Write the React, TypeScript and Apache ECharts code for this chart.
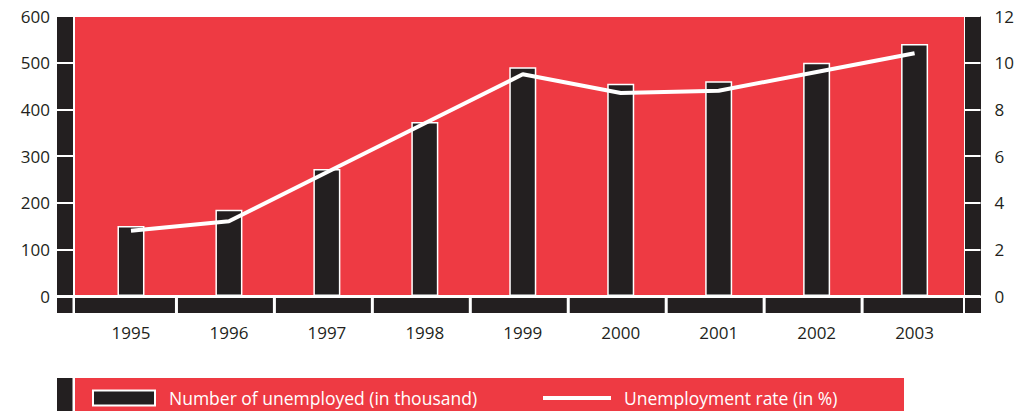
import React, { useEffect, useRef } from "react";
import * as echarts from "echarts";

const years = ["1995", "1996", "1997", "1998", "1999", "2000", "2001", "2002", "2003"];
const unemployed = [150, 185, 272, 373, 490, 455, 460, 500, 540];
const rate = [2.8, 3.2, 5.3, 7.4, 9.5, 8.7, 8.8, 9.6, 10.4];
const barName = "Number of unemployed (in thousand)";
const lineName = "Unemployment rate (in %)";

const RED = "#ee3a43";
const DARK = "#231f20";
const FONT = "Open Sans";

export default function App() {
  const ref = useRef<HTMLDivElement>(null);
  useEffect(() => {
    if (!ref.current) return;
    document.body.style.margin = "0";
    const chart = echarts.init(ref.current, undefined, { renderer: "svg" });
    const option: any = {
      animation: false,
      grid: { left: 82, right: 53, top: 16, bottom: 115, containLabel: false },
      xAxis: {
        type: "category",
        data: years,
        boundaryGap: true,
        axisLine: { show: false },
        axisTick: { show: false },
        axisLabel: { margin: 28, color: DARK, fontSize: 17, fontFamily: FONT },
        splitLine: { show: false },
      },
      yAxis: [
        {
          type: "value",
          min: 0,
          max: 600,
          interval: 100,
          position: "left",
          offset: 9,
          z: 10,
          axisLine: { show: false },
          axisTick: { show: true, inside: false, length: 16, lineStyle: { color: "#fff", width: 2 } },
          axisLabel: { margin: 23, color: DARK, fontSize: 17, fontFamily: FONT },
          splitLine: { show: false },
        },
        {
          type: "value",
          min: 0,
          max: 12,
          interval: 2,
          position: "right",
          offset: 1,
          z: 10,
          axisLine: { show: false },
          axisTick: { show: true, inside: false, length: 16, lineStyle: { color: "#fff", width: 2 } },
          axisLabel: { margin: 30, color: DARK, fontSize: 17, fontFamily: FONT },
          splitLine: { show: false },
        },
      ],
      legend: [
        {
          data: [barName],
          left: 92,
          top: 389,
          padding: 0,
          icon: "rect",
          itemWidth: 62,
          itemHeight: 15,
          selectedMode: false,
          textStyle: { color: "#fff", fontSize: 17.5, fontFamily: FONT, padding: [0, 0, 0, 9] },
        },
        {
          data: [lineName],
          left: 543,
          top: 389,
          padding: 0,
          icon: "rect",
          itemWidth: 68,
          itemHeight: 4,
          selectedMode: false,
          textStyle: { color: "#fff", fontSize: 17.5, fontFamily: FONT, padding: [0, 0, 0, 8] },
        },
      ],
      series: [
        {
          name: barName,
          type: "bar",
          data: unemployed,
          barWidth: 27,
          z: 2,
          itemStyle: { color: DARK, borderColor: "#fff", borderWidth: 1.5 },
        },
        {
          name: lineName,
          type: "line",
          yAxisIndex: 1,
          data: rate,
          symbol: "none",
          showSymbol: false,
          color: "#fff",
          z: 3,
          lineStyle: { color: "#fff", width: 4 },
        },
      ],
      graphic: [],
    };
    chart.setOption(option);

    // decorative frame pieces
    const px = years.map((y) => chart.convertToPixel({ xAxisIndex: 0 }, y) as number);
    const seps: any[] = [];
    for (let i = 0; i < px.length - 1; i++) {
      const mid = (px[i] + px[i + 1]) / 2 - 3.5;
      seps.push({ type: "rect", z: 1, shape: { x: mid - 1.5, y: 298, width: 3, height: 15 }, style: { fill: "#fff" } });
    }
    seps.push({ type: "rect", z: 1, shape: { x: 72.5, y: 298, width: 2.5, height: 15 }, style: { fill: "#fff" } });
    seps.push({ type: "rect", z: 1, shape: { x: 963, y: 298, width: 2, height: 15 }, style: { fill: "#fff" } });

    chart.setOption({
      graphic: [
        { type: "rect", z: 0, shape: { x: 75, y: 17, width: 889, height: 278 }, style: { fill: RED } },
        { type: "rect", z: 0, shape: { x: 57, y: 16, width: 16, height: 280 }, style: { fill: DARK } },
        { type: "rect", z: 0, shape: { x: 965, y: 16, width: 16, height: 280 }, style: { fill: DARK } },
        { type: "rect", z: 0, shape: { x: 57, y: 298, width: 924, height: 15 }, style: { fill: DARK } },
        ...seps,
        { type: "rect", z: 0, shape: { x: 57, y: 378, width: 15.5, height: 33 }, style: { fill: DARK } },
        { type: "rect", z: 0, shape: { x: 75, y: 378, width: 829, height: 33 }, style: { fill: RED } },
      ],
    });
    return () => chart.dispose();
  }, []);
  return <div ref={ref} style={{ position: "absolute", left: 0, top: 0, width: 1017, height: 411 }} />;
}
